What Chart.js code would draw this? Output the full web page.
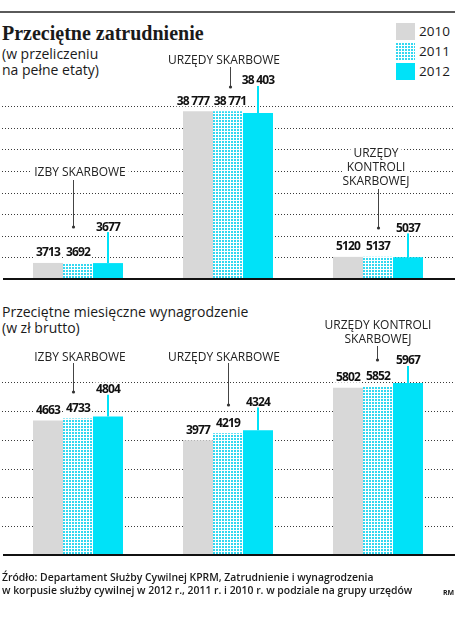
<!DOCTYPE html>
<html lang="pl">
<head>
<meta charset="utf-8">
<title>Przeciętne zatrudnienie i wynagrodzenie</title>
<script src="https://cdn.jsdelivr.net/npm/chart.js@4.4.1/dist/chart.umd.min.js"></script>
<style>
  html, body { margin: 0; padding: 0; background: #fff; }
  #page { position: relative; width: 460px; height: 622px; overflow: hidden; font-family: "Open Sans", sans-serif; color: #1a1a1a; }
  .chart-box { position: absolute; left: 0; top: 0; width: 460px; height: 622px; }
  .rule { position: absolute; left: 0; top: 11px; width: 455px; height: 2px; background: #5a5a5a; }
  .title { position: absolute; left: 2px; top: 21px; font: bold 20px "Liberation Serif", serif; line-height: 24px; white-space: nowrap; }
  .sub { position: absolute; left: 2px; font-size: 14px; line-height: 15.5px; white-space: nowrap; }
  .legend { position: absolute; left: 396px; top: 21px; }
  .legend div { display: flex; align-items: center; height: 20px; font-size: 13.5px; }
  .legend span.sw { width: 19px; height: 17px; margin-right: 4px; }
  .source { position: absolute; left: 2px; top: 571px; font-size: 10.4px; font-weight: 600; line-height: 13px; white-space: nowrap; }
  .rm { position: absolute; left: 443px; top: 588px; font-size: 7px; font-weight: 700; }
</style>
</head>
<body>
<div id="page">
  <div class="rule"></div>
  <div class="title">Przeciętne zatrudnienie</div>
  <div class="sub" style="top:46px">(w przeliczeniu<br>na pełne etaty)</div>
  <div class="legend" id="legend"></div>
  <div class="sub" style="top:304px">Przeciętne miesięczne wynagrodzenie<br>(w zł brutto)</div>
  <div class="chart-box"><canvas id="empChart"></canvas></div>
  <div class="chart-box"><canvas id="salChart"></canvas></div>
  <div class="source">Źródło: Departament Służby Cywilnej KPRM, Zatrudnienie i wynagrodzenia<br>w korpusie służby cywilnej w 2012 r., 2011 r. i 2010 r. w podziale na grupy urzędów</div>
  <div class="rm">RM</div>
</div>
<script>
// data
const categories = ['IZBY SKARBOWE', 'URZĘDY SKARBOWE', 'URZĘDY KONTROLI SKARBOWEJ'];
const years = ['2010', '2011', '2012'];
const employment2010 = [3713, 38777, 5120];
const employment2011 = [3692, 38771, 5137];
const employment2012 = [3677, 38403, 5037];
const salary2010 = [4663, 3977, 5802];
const salary2011 = [4733, 4219, 5852];
const salary2012 = [4804, 4324, 5967];
const employmentTicks = [5000, 10000, 15000, 20000, 25000, 30000, 35000, 40000];
const salaryTicks = [1000, 2000, 3000, 4000, 5000, 6000];

const GRAY = '#d8d8d8';
const CYAN = '#00e2f8';
const DOT = '#33d8f0';

// dotted fill for 2011
function makeTile() {
    const c = document.createElement('canvas');
    c.width = 3; c.height = 3;
    const g = c.getContext('2d');
    g.fillStyle = '#ffffff';
    g.fillRect(0, 0, 3, 3);
    g.fillStyle = DOT;
    g.fillRect(0, 0, 2, 2);
    return c;
}
const tile = makeTile();
const dots = tile.getContext('2d').createPattern(tile, 'repeat');
const fills = [GRAY, dots, CYAN];

// legend
const legend = document.getElementById('legend');
years.forEach((y, i) => {
    const row = document.createElement('div');
    const sw = document.createElement('span');
    sw.className = 'sw';
    if (i === 1) sw.style.backgroundImage = 'url(' + tile.toDataURL() + ')';
    else sw.style.background = fills[i];
    row.appendChild(sw);
    row.appendChild(document.createTextNode(y));
    legend.appendChild(row);
});

function fmt(v) {
    const s = String(v);
    return s.length > 4 ? s.replace(/\B(?=(\d{3})+(?!\d))/g, ' ') : s;
}

function wrap(ctx, text, maxW) {
    const words = text.split(' ');
    const lines = [];
    let cur = '';
    words.forEach(w => {
        const t = cur ? cur + ' ' + w : w;
        if (cur && ctx.measureText(t).width > maxW) { lines.push(cur); cur = w; }
        else cur = t;
    });
    lines.push(cur);
    return lines;
}

// notes: label text position + leader line, per category (page pixels)
function notesPlugin(ticks, notes, raise) {
    return {
        id: 'notes',
        beforeDatasetsDraw(chart) {
            const { ctx, chartArea } = chart;
            const y = chart.scales.y;
            ctx.save();
            ctx.strokeStyle = '#3a3a3a';
            ctx.lineWidth = 1;
            ctx.setLineDash([1, 2]);
            ticks.forEach(v => {
                const py = Math.round(y.getPixelForValue(v)) + 0.5;
                ctx.beginPath();
                ctx.moveTo(chartArea.left - 1, py);
                ctx.lineTo(chartArea.right + 2, py);
                ctx.stroke();
            });
            ctx.restore();
        },
        afterDatasetsDraw(chart) {
            const { ctx, chartArea } = chart;
            const y = chart.scales.y;
            const y0 = y.getPixelForValue(0);
            ctx.save();
            ctx.fillStyle = '#111';
            ctx.fillRect(chartArea.left, Math.round(y0) - 1, chartArea.right + 2 - chartArea.left, 2);

            // category notes
            const mid = chart.getDatasetMeta(1);
            ctx.font = '12px "Open Sans"';
            ctx.textAlign = 'center';
            ctx.textBaseline = 'middle';
            notes.forEach((n, i) => {
                const cx = mid.data[i].x;
                const lines = wrap(ctx, categories[i], n.wrap);
                lines.forEach((ln, k) => {
                    const ty = n.textY + k * 14;
                    const w = ctx.measureText(ln).width;
                    ctx.fillStyle = '#fff';
                    ctx.fillRect(cx + n.tx - w / 2 - 3, ty - 7, w + 6, 14);
                    ctx.fillStyle = '#222';
                    ctx.fillText(ln, cx + n.tx, ty + 1);
                });
                const lx = Math.round(cx + n.lx) + 0.5;
                ctx.strokeStyle = '#444';
                ctx.lineWidth = 1;
                ctx.beginPath();
                ctx.moveTo(lx, n.from);
                ctx.lineTo(lx, n.to);
                ctx.stroke();
                ctx.fillStyle = '#333';
                ctx.beginPath();
                ctx.arc(lx, n.to, 1.6, 0, Math.PI * 2);
                ctx.fill();
            });

            // value labels
            ctx.font = 'bold 12px "Open Sans"';
            ctx.letterSpacing = '-0.8px';
            const labels = [];
            chart.data.datasets.forEach((ds, d) => {
                const meta = chart.getDatasetMeta(d);
                meta.data.forEach((bar, i) => {
                    const ly = d === 2 ? bar.y - raise[i] : bar.y - 11;
                    if (d === 2) {
                        ctx.strokeStyle = CYAN;
                        ctx.lineWidth = 2;
                        ctx.beginPath();
                        ctx.moveTo(bar.x, bar.y);
                        ctx.lineTo(bar.x, ly + 6);
                        ctx.stroke();
                    }
                    const txt = fmt(ds.data[i]);
                    const w = ctx.measureText(txt).width;
                    // wide numbers are pushed apart a little
                    let x = bar.x;
                    if (w > bar.width - 2 && d === 0) x -= 5;
                    if (w > bar.width - 2 && d === 1) x += 2;
                    labels.push({ txt, x, ly, w });
                });
            });
            ctx.fillStyle = '#fff';
            labels.forEach(l => ctx.fillRect(l.x - l.w / 2 - 1, l.ly - 6, l.w + 2, 12));
            ctx.fillStyle = '#111';
            labels.forEach(l => ctx.fillText(l.txt, l.x, l.ly + 1));
            ctx.restore();
        }
    };
}

function makeChart(id, series, max, top, bottom, ticks, notes, raise) {
    return new Chart(document.getElementById(id), {
        type: 'bar',
        data: {
            labels: categories,
            datasets: series.map((s, i) => ({
                label: years[i],
                data: s,
                backgroundColor: fills[i],
                borderWidth: 0,
                categoryPercentage: 0.6,
                barPercentage: 1.0
            }))
        },
        options: {
            responsive: true,
            maintainAspectRatio: false,
            animation: false,
            devicePixelRatio: 1,
            layout: { padding: { left: 3, right: 7, top: top, bottom: bottom } },
            scales: {
                x: { display: false },
                y: { display: false, min: 0, max: max }
            },
            plugins: {
                legend: { display: false },
                tooltip: { enabled: false }
            }
        },
        plugins: [notesPlugin(ticks, notes, raise)]
    });
}

makeChart('empChart', [employment2010, employment2011, employment2012], 40000, 106, 622 - 279, employmentTicks, [
    { wrap: 120, tx: 2, textY: 172, lx: -5, from: 180, to: 227 },
    { wrap: 140, tx: -4, textY: 60, lx: 2, from: 67, to: 87 },
    { wrap: 80, tx: -2, textY: 153, lx: 0, from: 189, to: 228 }
], [37, 33, 30]);

makeChart('salChart', [salary2010, salary2011, salary2012], 6000, 382, 622 - 555, salaryTicks, [
    { wrap: 120, tx: 2, textY: 357, lx: -5, from: 363, to: 392 },
    { wrap: 140, tx: -4, textY: 357, lx: 0, from: 363, to: 405 },
    { wrap: 120, tx: 0, textY: 325, lx: -1, from: 346, to: 360 }
], [28, 29, 23]);
</script>
</body>
</html>
